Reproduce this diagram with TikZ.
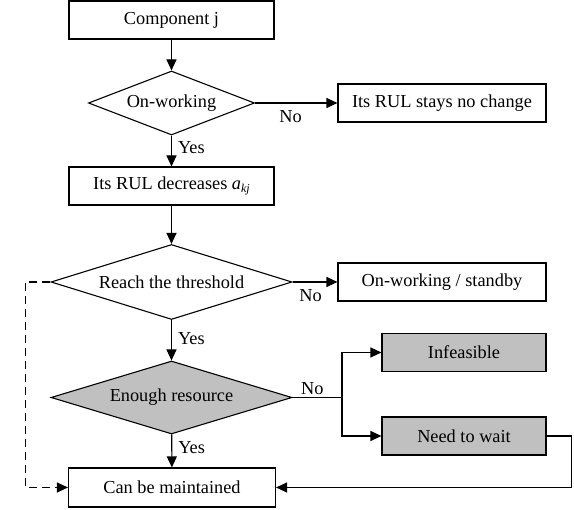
\documentclass[tikz,border=0pt]{standalone}
\usepackage{fontspec}
\setmainfont{Liberation Serif}
\usetikzlibrary{shapes.geometric,arrows.meta}
\definecolor{boxgray}{RGB}{192,192,192}
\begin{document}
\begin{tikzpicture}[x=1pt,y=-1pt,
  font=\fontsize{18.3}{22}\selectfont,
  every path/.style={line width=1.1pt},
  procbox/.style={draw, rectangle, inner sep=0pt, minimum height=38pt},
  decbox/.style={draw, diamond, inner sep=0pt, aspect=3},
  conn/.style={line width=1.1pt, -{Triangle[length=11pt,width=10pt]}},
  lbl/.style={inner sep=2pt}]
\useasboundingbox (0,0) rectangle (574,510);
\node[procbox, minimum width=205pt] (comp) at (171.5,20) {Component j};
\node[decbox, minimum width=166pt, minimum height=64pt] (onw) at (171.5,103) {On-working};
\node[procbox, minimum width=208pt] (stay) at (442,103) {Its RUL stays no change};
\node[procbox, minimum width=205pt] (dec) at (171.5,186) {Its RUL decreases \textit{a}\raisebox{-0.35ex}{\fontsize{12}{14}\selectfont\textit{kj}}};
\node[decbox, minimum width=241pt, minimum height=75pt] (reach) at (171.5,282) {Reach the threshold};
\node[procbox, minimum width=208pt] (standby) at (442,282) {On-working / standby};
\node[decbox, fill=boxgray, minimum width=241pt, minimum height=73pt] (enough) at (171.5,397.5) {Enough resource};
\node[procbox, fill=boxgray, minimum width=164pt] (infeas) at (464,352.5) {Infeasible};
\node[procbox, fill=boxgray, minimum width=164pt] (wait) at (464,436) {Need to wait};
\node[procbox, minimum width=207pt, minimum height=39pt] (maint) at (172,487.5) {Can be maintained};
\coordinate (split) at (342,397.5);

\draw[conn] (comp) -- (onw);
\draw[conn] (onw.east) -- node[lbl, below, pos=0.43, yshift=-5pt] {No} (stay.west);
\draw[conn] (onw) -- node[lbl, right, pos=0.4, xshift=4pt] {Yes} (dec);
\draw[conn] (dec) -- (reach);
\draw[conn] (reach.east) -- node[lbl, below, pos=0.4, yshift=-5pt] {No} (standby.west);
\draw[conn] (reach) -- node[lbl, right, pos=0.45, xshift=4pt] {Yes} (enough);
\draw (enough.east) -- node[lbl, above, pos=0.4] {No} (split);
\draw[conn] (split) |- (infeas.west);
\draw[conn] (split) |- (wait.west);
\draw[conn] (enough) -- node[lbl, right, pos=0.4, xshift=4pt] {Yes} (maint);
\draw[conn, dashed, dash pattern=on 8pt off 5pt] (reach.west) -- ++(-25,0) |- (maint.west);
\draw[conn] (wait.east) -- ++(25,0) |- (maint.east);
\end{tikzpicture}
\end{document}
